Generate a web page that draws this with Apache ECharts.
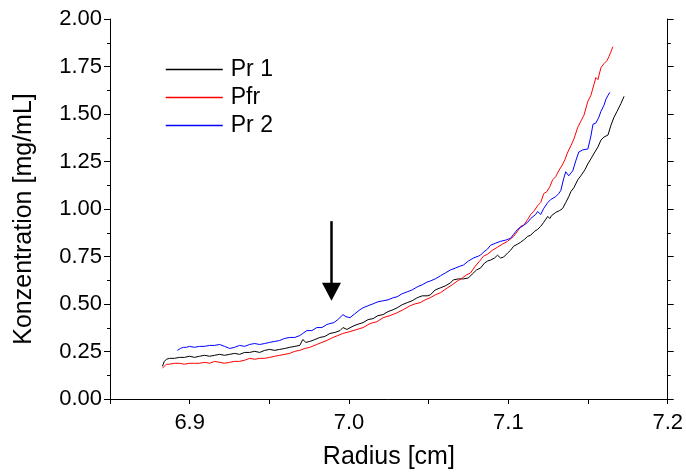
<!DOCTYPE html>
<html>
<head>
<meta charset="utf-8">
<script src="https://cdn.jsdelivr.net/npm/echarts@6/dist/echarts.min.js"></script>
<style>html,body{margin:0;padding:0;background:#fff}#c{width:686px;height:475px}</style>
</head>
<body>
<div id="c"></div>
<script>
// Pr 1 (black)
const radiusPr1 = [6.8829,6.8841,6.8854,6.8873,6.8904,6.8936,6.8967,6.8999,6.9030,6.9062,6.9093,6.9125,6.9156,6.9188,6.9219,6.9251,6.9282,6.9313,6.9345,6.9376,6.9408,6.9439,6.9471,6.9502,6.9534,6.9565,6.9597,6.9628,6.9660,6.9691,6.9710,6.9729,6.9754,6.9786,6.9817,6.9848,6.9880,6.9911,6.9943,6.9962,6.9987,7.0019,7.0050,7.0088,7.0120,7.0151,7.0182,7.0214,7.0245,7.0277,7.0302,7.0333,7.0365,7.0396,7.0428,7.0459,7.0491,7.0510,7.0541,7.0573,7.0604,7.0636,7.0655,7.0686,7.0718,7.0749,7.0774,7.0800,7.0825,7.0850,7.0869,7.0888,7.0913,7.0932,7.0951,7.0970,7.0995,7.1014,7.1033,7.1058,7.1077,7.1102,7.1121,7.1140,7.1165,7.1184,7.1203,7.1222,7.1234,7.1247,7.1260,7.1272,7.1297,7.1322,7.1341,7.1360,7.1379,7.1392,7.1411,7.1436,7.1455,7.1480,7.1499,7.1518,7.1543,7.1562,7.1581,7.1600,7.1625,7.1644,7.1663,7.1682,7.1707,7.1726];
const concPr1 = [0.172,0.198,0.209,0.214,0.214,0.219,0.219,0.225,0.219,0.225,0.230,0.225,0.230,0.235,0.230,0.235,0.240,0.235,0.245,0.245,0.251,0.245,0.256,0.261,0.256,0.261,0.266,0.272,0.277,0.282,0.313,0.298,0.303,0.313,0.324,0.329,0.345,0.350,0.360,0.376,0.366,0.381,0.392,0.402,0.418,0.423,0.439,0.444,0.460,0.470,0.480,0.496,0.507,0.517,0.533,0.543,0.543,0.548,0.574,0.585,0.595,0.611,0.627,0.632,0.632,0.637,0.658,0.679,0.689,0.715,0.726,0.731,0.742,0.757,0.742,0.747,0.768,0.783,0.804,0.815,0.825,0.841,0.856,0.862,0.883,0.893,0.909,0.930,0.940,0.961,0.950,0.966,0.982,0.992,1.003,1.034,1.065,1.091,1.112,1.154,1.175,1.206,1.238,1.264,1.300,1.326,1.363,1.379,1.389,1.441,1.483,1.514,1.556,1.593];

// Pfr (red)
const radiusPfr = [6.8829,6.8841,6.8854,6.8873,6.8904,6.8936,6.8967,6.8999,6.9030,6.9062,6.9093,6.9125,6.9156,6.9188,6.9219,6.9251,6.9282,6.9313,6.9345,6.9376,6.9408,6.9439,6.9471,6.9502,6.9534,6.9565,6.9597,6.9628,6.9660,6.9691,6.9723,6.9754,6.9798,6.9830,6.9861,6.9899,6.9930,6.9962,7.0006,7.0050,7.0088,7.0132,7.0176,7.0214,7.0258,7.0302,7.0340,7.0384,7.0415,7.0447,7.0478,7.0510,7.0541,7.0573,7.0617,7.0648,7.0680,7.0711,7.0737,7.0762,7.0793,7.0825,7.0844,7.0869,7.0900,7.0932,7.0963,7.0995,7.1033,7.1058,7.1077,7.1096,7.1121,7.1140,7.1159,7.1184,7.1203,7.1222,7.1241,7.1260,7.1278,7.1297,7.1316,7.1335,7.1354,7.1373,7.1392,7.1411,7.1436,7.1455,7.1474,7.1499,7.1518,7.1537,7.1549,7.1562,7.1581,7.1600,7.1619,7.1631,7.1644,7.1656];
const concPfr = [0.162,0.172,0.183,0.183,0.188,0.188,0.183,0.188,0.188,0.188,0.193,0.188,0.198,0.193,0.188,0.193,0.198,0.198,0.204,0.214,0.209,0.214,0.214,0.219,0.225,0.230,0.235,0.240,0.251,0.256,0.266,0.272,0.287,0.298,0.308,0.324,0.334,0.345,0.355,0.366,0.376,0.397,0.407,0.428,0.439,0.454,0.470,0.491,0.501,0.507,0.522,0.533,0.548,0.559,0.585,0.601,0.621,0.637,0.653,0.663,0.700,0.731,0.752,0.762,0.783,0.799,0.815,0.830,0.856,0.883,0.909,0.914,0.945,0.971,0.987,1.018,1.034,1.081,1.091,1.117,1.154,1.170,1.201,1.227,1.258,1.300,1.332,1.368,1.431,1.462,1.493,1.567,1.598,1.655,1.692,1.681,1.744,1.765,1.781,1.802,1.828,1.854];

// Pr 2 (blue)
const radiusPr2 = [6.8923,6.8942,6.8961,6.8980,6.8999,6.9030,6.9062,6.9093,6.9125,6.9156,6.9188,6.9219,6.9251,6.9282,6.9313,6.9345,6.9376,6.9408,6.9439,6.9471,6.9502,6.9534,6.9565,6.9597,6.9628,6.9660,6.9691,6.9710,6.9735,6.9767,6.9798,6.9830,6.9861,6.9880,6.9905,6.9930,6.9962,6.9981,7.0006,7.0037,7.0069,7.0088,7.0120,7.0151,7.0182,7.0214,7.0245,7.0277,7.0302,7.0333,7.0365,7.0396,7.0428,7.0459,7.0491,7.0510,7.0541,7.0573,7.0604,7.0636,7.0667,7.0699,7.0718,7.0749,7.0781,7.0812,7.0825,7.0844,7.0869,7.0888,7.0919,7.0951,7.0982,7.1014,7.1033,7.1058,7.1077,7.1096,7.1121,7.1140,7.1171,7.1184,7.1203,7.1222,7.1247,7.1266,7.1297,7.1316,7.1329,7.1347,7.1360,7.1379,7.1404,7.1423,7.1442,7.1467,7.1499,7.1518,7.1531,7.1549,7.1568,7.1581,7.1600,7.1612,7.1625,7.1637];
const concPr2 = [0.256,0.266,0.272,0.272,0.277,0.272,0.277,0.277,0.282,0.282,0.287,0.277,0.266,0.272,0.282,0.277,0.287,0.292,0.287,0.292,0.298,0.303,0.308,0.319,0.324,0.324,0.334,0.345,0.360,0.360,0.376,0.376,0.392,0.397,0.402,0.418,0.444,0.433,0.428,0.449,0.470,0.480,0.491,0.501,0.512,0.517,0.522,0.533,0.538,0.554,0.564,0.574,0.590,0.601,0.616,0.621,0.632,0.648,0.663,0.679,0.689,0.700,0.705,0.726,0.742,0.752,0.757,0.773,0.789,0.809,0.820,0.830,0.836,0.846,0.867,0.893,0.903,0.914,0.930,0.950,0.971,0.987,0.971,1.003,1.034,1.050,1.065,1.081,1.097,1.159,1.196,1.175,1.201,1.253,1.300,1.311,1.316,1.384,1.446,1.452,1.483,1.514,1.546,1.577,1.598,1.614];

// arrow annotation (radius, concentration from / to)
const arrowRadius = 6.989;
const arrowFrom = 0.936;
const arrowTo = 0.565;

const xTicks = ['6.9', '7.0', '7.1', '7.2'];
const seriesNames = ['Pr 1', 'Pfr', 'Pr 2'];
const seriesColors = ['#000000', '#ff0000', '#0000ff'];

const FONT = 'Liberation Sans, Arial, sans-serif';
const zip = (a, b) => a.map((v, i) => [v, b[i]]);

const chart = echarts.init(document.getElementById('c'), null, {renderer: 'canvas'});
const yAxisCommon = {
  type: 'value', min: 0, max: 2, interval: 0.25,
  axisLine: {show: true, lineStyle: {color: '#000', width: 1}},
  axisTick: {show: true, inside: false, length: 6, lineStyle: {color: '#000'}},
  minorTick: {show: true, splitNumber: 2, length: 3, lineStyle: {color: '#000'}},
  splitLine: {show: false}
};
const makeSeries = (i, r, c) => ({
  name: seriesNames[i], type: 'line', data: zip(r, c), showSymbol: false, symbol: 'none',
  color: seriesColors[i],
  lineStyle: {color: seriesColors[i], width: 1}, itemStyle: {color: seriesColors[i]}, silent: true
});
const s1 = makeSeries(0, radiusPr1, concPr1);
s1.markLine = {
  silent: true, animation: false, label: {show: false},
  lineStyle: {color: '#000', width: 2.5, type: 'solid'},
  symbol: ['none', 'triangle'], symbolSize: [19, 18],
  data: [[{coord: [arrowRadius, arrowFrom]}, {coord: [arrowRadius, arrowTo]}]]
};
chart.setOption({
  animation: false,
  backgroundColor: '#fff',
  color: seriesColors,
  grid: {left: 110, right: 17, top: 19, bottom: 73, containLabel: false},
  legend: {
    orient: 'vertical', left: 160, top: 53, itemWidth: 57, itemHeight: 14, itemGap: 5,
    itemStyle: {opacity: 0},
    lineStyle: {width: 1.5},
    textStyle: {fontFamily: FONT, fontSize: 23, color: '#000', padding: [0, 0, 0, 3]},
    data: seriesNames.map((n, i) => ({name: n, lineStyle: {color: seriesColors[i], width: 1.5}}))
  },
  xAxis: {
    type: 'value', min: 6.85, max: 7.2, interval: 0.05,
    name: 'Radius [cm]', nameLocation: 'middle', nameGap: 46,
    nameTextStyle: {fontFamily: FONT, fontSize: 25, color: '#000'},
    axisLine: {show: true, onZero: false, lineStyle: {color: '#000', width: 1}},
    axisTick: {show: true, inside: false, length: 5, lineStyle: {color: '#000'}},
    axisLabel: {
      fontFamily: FONT, fontSize: 22, color: '#000', margin: 13,
      formatter: v => { const s = (Math.round(v * 100) / 100).toFixed(1); return xTicks.includes(s) && Math.abs(v * 10 - Math.round(v * 10)) < 1e-6 ? s : ''; }
    },
    splitLine: {show: false}
  },
  yAxis: [
    Object.assign({}, yAxisCommon, {
      position: 'left',
      name: 'Konzentration [mg/mL]', nameLocation: 'middle', nameGap: 73, nameRotate: 90,
      nameTextStyle: {fontFamily: FONT, fontSize: 25, color: '#000', padding: [0, 20, 0, 0]},
      axisLabel: {fontFamily: FONT, fontSize: 22, color: '#000', margin: 8, formatter: v => v.toFixed(2)}
    }),
    Object.assign({}, yAxisCommon, {position: 'right', axisLabel: {show: false}})
  ],
  series: [
    s1,
    makeSeries(1, radiusPfr, concPfr),
    makeSeries(2, radiusPr2, concPr2)
  ]
});
</script>
</body>
</html>
